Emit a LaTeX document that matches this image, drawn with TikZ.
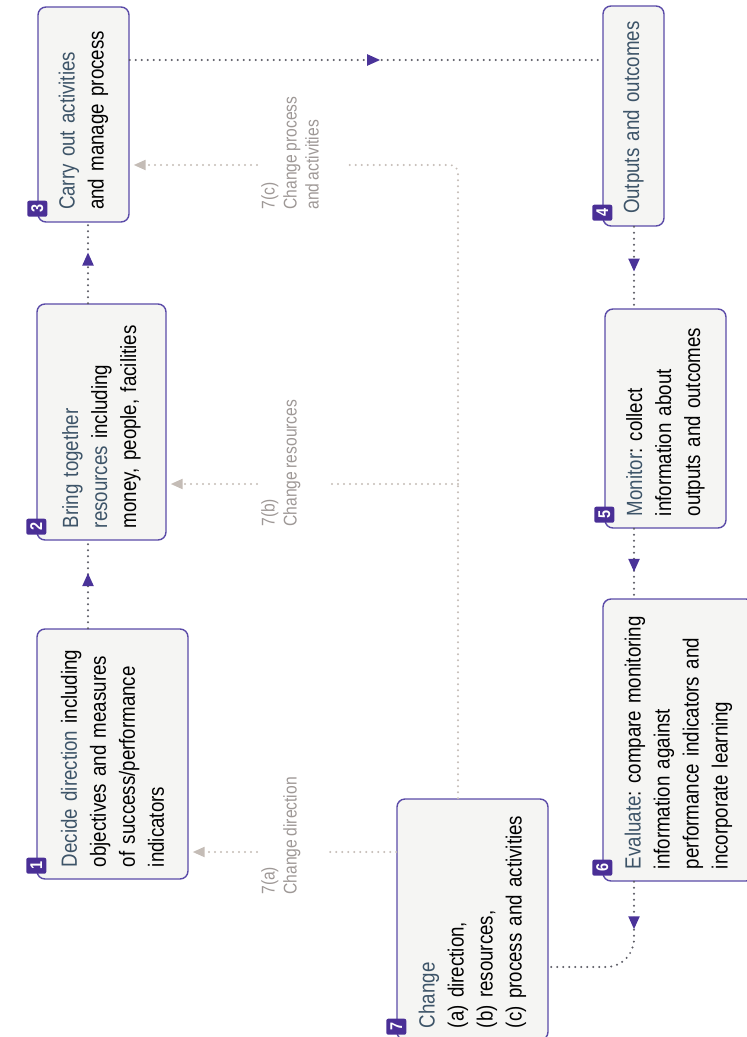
\documentclass[tikz,border=0pt]{standalone}
\usepackage{fontspec}
\setmainfont{Liberation Sans}[FakeStretch=0.85,WordSpace=0.8]
\usetikzlibrary{arrows.meta,decorations.markings}
\definecolor{boxline}{HTML}{5B4BA8}
\definecolor{boxfill}{HTML}{F5F5F3}
\definecolor{badgefill}{HTML}{4A2F96}
\definecolor{headblue}{HTML}{3D5468}
\definecolor{flowgray}{HTML}{5A5A64}
\definecolor{tipviolet}{HTML}{4A3399}
\definecolor{changegray}{HTML}{C4BCB6}
\definecolor{labelgray}{HTML}{9E9896}
\newcommand{\hd}[1]{\textcolor{headblue}{#1}}
\frenchspacing
\tikzset{
  stage/.style={draw=boxline,fill=boxfill,line width=0.7pt,rounded corners=4pt,rotate=90,
    align=left,inner xsep=6pt,inner ysep=4pt,font=\fontsize{11}{14.5}\selectfont},
  badge/.style={fill=badgefill,text=white,rotate=90,rounded corners=1pt,minimum width=8pt,
    minimum height=10pt,inner sep=0pt,font=\fontsize{8.5}{8.5}\selectfont\bfseries},
  flow/.style={draw=flowgray,line width=1.1pt,line cap=round,dash pattern=on 0pt off 3pt,
    postaction={decorate},decoration={markings,mark=at position #1 with
    {\arrow{Triangle[length=6.5pt,width=5.5pt,color=tipviolet]}}}},
  flow/.default=0.6,
  back/.style={draw=changegray,line width=1.1pt,line cap=round,dash pattern=on 0pt off 3pt},
  backtip/.style={back,-{Triangle[length=6pt,width=5pt,color=changegray]},shorten >=2pt},
  note/.style={rotate=90,align=left,inner sep=0pt,anchor=north west,text=labelgray,
    font=\fontsize{9.2}{11}\selectfont}
}
\begin{document}
\begin{tikzpicture}[x=0.5pt,y=-0.5pt]
\useasboundingbox (0,0) rectangle (747,1037);
\clip (0,0) rectangle (747,1037);
% stages
\node[stage,text width=113pt,minimum height=75.5pt] (decide) at (112.5,754)
  {\hd{Decide direction} including\\objectives and measures\\of success/performance\\indicators};
\node[stage,text width=106pt,minimum height=64.5pt] (resources) at (101.5,422)
  {\hd{Bring together}\\\hd{resources} including\\money, people, facilities};
\node[stage,text width=95.5pt,minimum height=45.5pt] (activities) at (83.5,114.5)
  {\hd{Carry out activities}\\and manage process};
\node[stage,text width=98pt,minimum height=30.5pt] (outputs) at (633.5,116)
  {\hd{Outputs and outcomes}};
\node[stage,text width=97.5pt,minimum height=60.5pt] (monitor) at (665.5,418.5)
  {\hd{Monitor}: collect\\information about\\outputs and outcomes};
\node[stage,text width=129pt,minimum height=75.5pt] (evaluate) at (678.5,740)
  {\hd{Evaluate}: compare monitoring\\information against\\performance indicators and\\incorporate learning};
\node[stage,text width=108.5pt,minimum height=75.5pt] (change) at (472.5,919.5)
  {\hd{Change}\\(a) direction,\\(b) resources,\\(c) process and activities};
\foreach \b/\n in {decide/1,resources/2,activities/3,outputs/4,monitor/5,evaluate/6,change/7}
  \node[badge] (k\n) at ([yshift=7pt]\b.north west) {\n};
% change labels
\node[note] (chA) at (261,895) {7(a)\\Change direction};
\node[note] (chB) at (261,527) {7(b)\\Change resources};
\node[note] (chC) at (261,210) {7(c)\\Change process\\and activities};
% rows and columns of the connectors
\coordinate (colL) at (88,0);
\coordinate (colR) at (634,0);
\coordinate (colG) at (458,0);
\coordinate (rowT) at (0,60);
\coordinate (rowC) at (0,165);
\coordinate (rowB) at (0,484);
\coordinate (rowA) at (0,852);
\coordinate (rowE) at (0,967);
% main cycle
\draw[flow=.63] (decide.east -| colL) -- (resources.west -| colL);
\draw[flow=.63] (resources.east -| colL) -- (activities.west -| colL);
\draw[flow=.53] (activities.south |- rowT) -- (outputs.north |- rowT);
\draw[flow=.55] (outputs.west -| colR) -- (monitor.east -| colR);
\draw[flow=.62] (monitor.west -| colR) -- (evaluate.east -| colR);
\draw[flow=.3,rounded corners=14pt] (evaluate.west -| colR) -- (colR |- rowE) -- (change.south |- rowE);
% changes fed back
\draw[back,rounded corners=4pt] (change.east -| colG) -- (colG |- rowC) -- ([xshift=13pt]chC.south |- rowC);
\draw[backtip] ([xshift=-2pt]chC.north |- rowC) -- (activities.south |- rowC);
\draw[back] (colG |- rowB) -- ([xshift=13pt]chB.south |- rowB);
\draw[backtip] ([xshift=-2pt]chB.north |- rowB) -- (resources.south |- rowB);
\draw[back] (change.north |- rowA) -- ([xshift=13pt]chA.south |- rowA);
\draw[backtip] ([xshift=-2pt]chA.north |- rowA) -- (decide.south |- rowA);
\end{tikzpicture}
\end{document}
